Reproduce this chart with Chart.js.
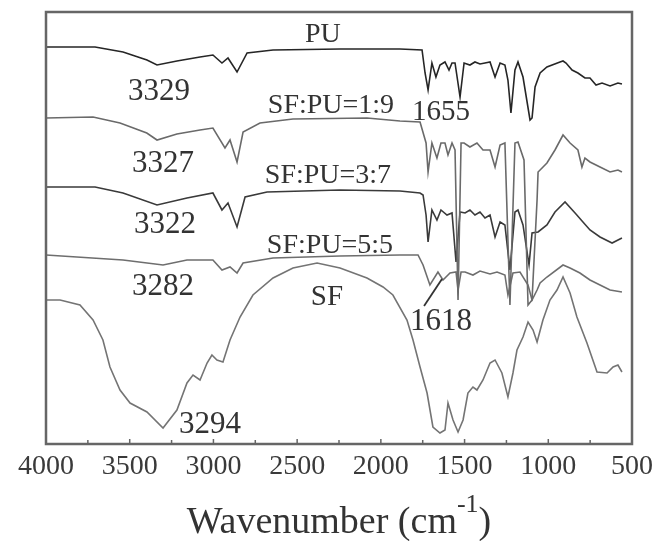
<!DOCTYPE html>
<html>
<head>
<meta charset="utf-8">
<script src="https://cdn.jsdelivr.net/npm/chart.js@4.4.1/dist/chart.umd.min.js"></script>
<style>
  html, body { margin:0; padding:0; background:#fff; }
  #wrap { width:667px; height:541px; }
</style>
</head>
<body>
<div id="wrap"><canvas id="ftir" width="667" height="541"></canvas></div>
<script>

// tick labels on the wavenumber axis
const xTicks = [4000, 3500, 3000, 2500, 2000, 1500, 1000, 500]

// spectra: wavenumber (cm-1) and offset transmittance (a.u.)
const puWave = [4000,3707,3540,3397,3337,3218,3080,3003,2949,2913,2859,2799,2644,2244,1886,1754,1736,1718,1695,1671,1647,1617,1593,1575,1557,1527,1503,1468,1438,1408,1378,1348,1318,1288,1259,1241,1223,1199,1181,1151,1109,1097,1079,1049,1008,930,912,894,858,823,781,751,715,679,631,584,560]
const puT = [397,397,392,384,379,383,387,389,381,386,372,391,394,395,395,394,371,354,381,367,379,382,374,381,381,347,381,379,382,380,381,382,367,381,379,364,331,374,382,367,324,326,357,371,377,382,383,381,374,371,366,366,359,361,358,361,360]

const r19Wave = [4000,3719,3558,3398,3337,3218,3080,3003,2931,2901,2859,2823,2722,2525,2083,1886,1766,1730,1718,1695,1665,1641,1617,1599,1575,1557,1539,1521,1503,1468,1426,1390,1348,1318,1288,1259,1229,1199,1181,1145,1121,1097,1067,1061,1049,1008,960,912,870,823,799,781,751,691,631,584,560]
const r19T = [326,327,321,311,304,310,314,316,296,304,282,312,321,325,326,323,322,301,272,301,286,301,301,289,301,294,144,301,301,297,301,294,294,277,299,301,139,301,302,284,139,144,244,272,274,281,294,309,301,294,277,286,282,277,272,274,272]

const r37Wave = [4000,3707,3540,3337,3158,3003,2949,2913,2859,2811,2680,2244,1886,1766,1748,1730,1718,1695,1665,1641,1605,1575,1551,1527,1497,1468,1438,1408,1378,1348,1318,1288,1259,1229,1199,1181,1151,1115,1097,1061,1008,960,900,840,793,751,691,619,560]
const r37T = [257,257,251,239,246,251,234,241,217,247,252,254,253,251,249,229,202,234,224,234,229,231,182,232,231,234,229,232,226,229,207,222,219,174,232,234,219,179,211,212,219,232,242,231,222,214,207,201,206]

const r55Wave = [4000,3540,3301,3158,3003,2949,2901,2859,2823,2644,2244,1886,1778,1748,1707,1659,1629,1587,1551,1539,1521,1497,1450,1408,1348,1306,1259,1241,1211,1169,1121,1097,1067,1049,1008,912,870,811,751,691,631,560]
const r55T = [189,184,179,184,184,174,177,171,181,186,188,189,189,179,159,172,164,171,172,154,172,172,169,173,170,172,169,149,171,172,159,144,154,161,167,179,176,171,164,159,154,152]

const sfWave = [4000,3916,3797,3719,3660,3618,3558,3498,3397,3301,3218,3158,3122,3080,3038,3009,2979,2943,2901,2841,2764,2644,2525,2381,2244,2083,1987,1928,1844,1808,1766,1724,1689,1647,1617,1599,1569,1539,1509,1480,1450,1426,1390,1348,1318,1277,1241,1211,1187,1151,1121,1091,1067,1032,990,948,912,870,829,769,709,649,613,584,560]
const sfT = [144,144,139,124,104,77,54,41,32,16,34,61,69,64,81,89,84,82,104,127,149,166,176,181,176,166,157,149,124,104,77,51,17,11,14,41,24,12,24,51,57,54,64,81,84,71,47,71,94,107,122,114,102,124,144,154,167,151,127,101,72,71,77,79,72]

const series = [
    {label:"PU", wave:puWave, t:puT, color:"#262626"},
    {label:"SF:PU=1:9", wave:r19Wave, t:r19T, color:"#6a6a6a"},
    {label:"SF:PU=3:7", wave:r37Wave, t:r37T, color:"#3a3a3a"},
    {label:"SF:PU=5:5", wave:r55Wave, t:r55T, color:"#6e6e6e"},
    {label:"SF", wave:sfWave, t:sfT, color:"#747474"}
]

const serif = "'Liberation Serif', 'Times New Roman', serif"

// text placed on the plot, in data coordinates (x = wavenumber, y = baseline)
const notes = [
    {text:"PU", x:2346, y:402, size:28},
    {text:"3329", x:3325, y:344, size:31},
    {text:"SF:PU=1:9", x:2298, y:331, size:28},
    {text:"1655", x:1641, y:324, size:29},
    {text:"3327", x:3301, y:272, size:31},
    {text:"SF:PU=3:7", x:2316, y:261, size:28},
    {text:"3322", x:3289, y:211, size:31},
    {text:"SF:PU=5:5", x:2304, y:191, size:28},
    {text:"3282", x:3301, y:149, size:31},
    {text:"SF", x:2322, y:139, size:29},
    {text:"3294", x:3020, y:11, size:31},
    {text:"1618", x:1641, y:114, size:31}
]
const leader = {x1:1742, y1:138, x2:1635, y2:165}

const framePlugin = {
    id:"frame",
    afterDatasetsDraw(chart){
        const {ctx, chartArea:a, scales:{x}} = chart
        ctx.save()
        ctx.strokeStyle = "#666"
        ctx.lineWidth = 2.5
        ctx.strokeRect(a.left, a.top, a.right - a.left, a.bottom - a.top)
        // inward ticks on the bottom axis
        ctx.lineWidth = 1.5
        for(let i = 0; i < xTicks.length - 1; i++){
            const major = xTicks[i], minor = (xTicks[i] + xTicks[i+1]) / 2
            if(i > 0){
                const px = x.getPixelForValue(major)
                ctx.beginPath(); ctx.moveTo(px, a.bottom); ctx.lineTo(px, a.bottom - 5); ctx.stroke()
            }
            const pm = x.getPixelForValue(minor)
            ctx.beginPath(); ctx.moveTo(pm, a.bottom); ctx.lineTo(pm, a.bottom - 4); ctx.stroke()
        }
        ctx.restore()
    }
}

const notesPlugin = {
    id:"notes",
    afterDraw(chart){
        const {ctx, scales:{x, y}} = chart
        ctx.save()
        ctx.fillStyle = "#333"
        ctx.textAlign = "center"
        ctx.textBaseline = "alphabetic"
        notes.forEach(n=>{
            ctx.font = n.size + "px " + serif
            ctx.fillText(n.text, x.getPixelForValue(n.x), y.getPixelForValue(n.y))
        })
        ctx.strokeStyle = "#333"
        ctx.lineWidth = 1.8
        ctx.beginPath()
        ctx.moveTo(x.getPixelForValue(leader.x1), y.getPixelForValue(leader.y1))
        ctx.lineTo(x.getPixelForValue(leader.x2), y.getPixelForValue(leader.y2))
        ctx.stroke()
        ctx.restore()
    }
}

// axis title with a real superscript
const titlePlugin = {
    id:"xtitle",
    afterDraw(chart){
        const {ctx, chartArea:a} = chart
        const main = "Wavenumber (cm", sup = "-1", close = ")"
        ctx.save()
        ctx.fillStyle = "#333"
        ctx.textBaseline = "alphabetic"
        ctx.textAlign = "left"
        ctx.font = "38px " + serif
        const w1 = ctx.measureText(main).width
        const w3 = ctx.measureText(close).width
        ctx.font = "26px " + serif
        const w2 = ctx.measureText(sup).width
        let px = (a.left + a.right) / 2 - (w1 + w2 + w3) / 2
        const base = 533
        ctx.font = "38px " + serif
        ctx.fillText(main, px, base)
        px += w1
        ctx.font = "26px " + serif
        ctx.fillText(sup, px, base - 21)
        px += w2
        ctx.font = "38px " + serif
        ctx.fillText(close, px, base)
        ctx.restore()
    }
}

const ctx = document.getElementById("ftir").getContext("2d")

new Chart(ctx,{
    type:"line",
    data:{
        datasets: series.map(s=>({
            label:s.label,
            data:s.wave.map((w,i)=>({x:w, y:s.t[i]})),
            borderColor:s.color,
            borderWidth:1.6,
            pointRadius:0,
            tension:0,
            fill:false
        }))
    },
    options:{
        responsive:false,
        animation:false,
        layout:{padding:{left:46, top:12, right:35, bottom:0}},
        plugins:{legend:{display:false}, tooltip:{enabled:false}},
        scales:{
            x:{
                type:"linear",
                reverse:true,
                min:500,
                max:4000,
                afterBuildTicks: s => { s.ticks = xTicks.map(v=>({value:v})) },
                afterFit: s => { s.height = 97 },
                grid:{display:false, drawTicks:false},
                border:{display:false},
                ticks:{
                    autoSkip:false,
                    maxRotation:0,
                    padding:6,
                    color:"#3a3a3a",
                    font:{family:serif, size:28},
                    callback: v => String(v)
                }
            },
            y:{display:false, min:0, max:432}
        }
    },
    plugins:[framePlugin, notesPlugin, titlePlugin]
})
</script>
</body>
</html>
